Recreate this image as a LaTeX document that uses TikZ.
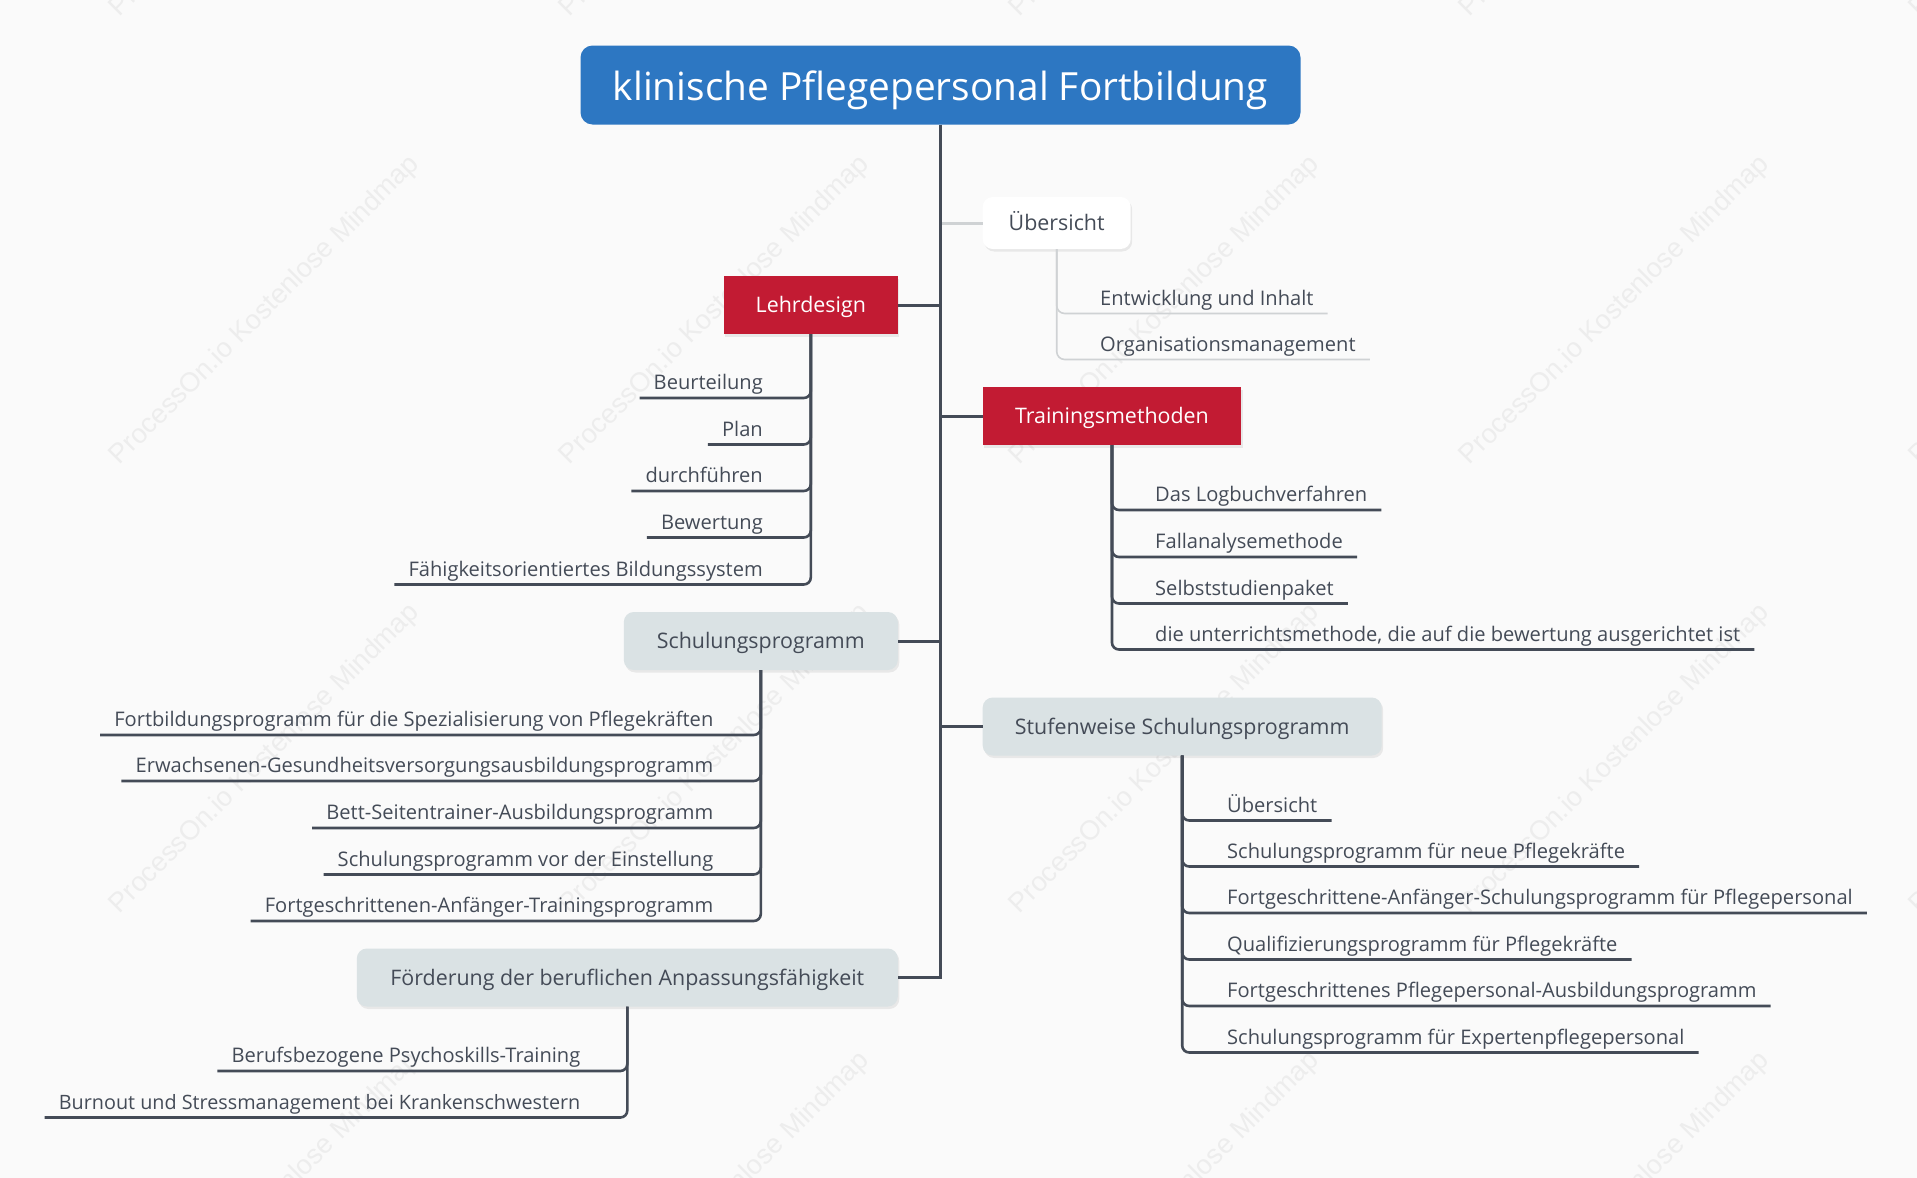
\documentclass[tikz,border=0pt]{standalone}
\usepackage{fontspec}
\setmainfont{Open Sans}
\newfontfamily\markfont{Liberation Sans}
\usetikzlibrary{shadows}
\definecolor{pagebg}{HTML}{FAFAFA}
\definecolor{rootblue}{HTML}{2D77C2}
\definecolor{topicred}{HTML}{C21B33}
\definecolor{topicgray}{HTML}{DAE2E4}
\definecolor{inkgray}{HTML}{444B57}
\definecolor{palegray}{HTML}{CFD2D4}
\definecolor{markgray}{HTML}{EDEDED}

\begin{document}
\begin{tikzpicture}[
    x=1pt, y=-1pt,
    softshadow/.style={drop shadow={shadow xshift=1.5pt, shadow yshift=-2.5pt, opacity=0.07, fill=black}},
    rootbox/.style={rectangle, rounded corners=12pt, fill=rootblue, text=white,
        minimum width=720pt, minimum height=79pt, text height=31pt, text depth=0pt,
        font=\fontsize{38.8}{46}\selectfont},
    topic/.style={rectangle, minimum height=58pt, inner sep=0pt, text height=15.4pt, text depth=0pt,
        softshadow, font=\fontsize{21.4}{25}\selectfont},
    plaintopic/.style={topic, rounded corners=10pt, fill=white, text=inkgray},
    redtopic/.style={topic, fill=topicred, text=white},
    graytopic/.style={topic, rounded corners=10pt, fill=topicgray, text=inkgray},
    leaf/.style={inner xsep=14pt, inner ysep=0pt, text height=20pt, text depth=8pt,
        text=inkgray, font=\fontsize{20.1}{24}\selectfont},
    branch/.style={draw=inkgray, line width=3pt},
    twig/.style={draw=inkgray, line width=2.6pt, rounded corners=7pt},
    palelink/.style={draw=palegray, line width=3pt},
    paletwig/.style={draw=palegray, line width=1.6pt, rounded corners=8pt},
    watermark/.style={rotate=45, text=markgray, font=\fontsize{27.2}{32}\markfont}
]
    \useasboundingbox (0,0) rectangle (1917,1178);
    \clip (0,0) rectangle (1917,1178);
    \fill[pagebg] (0,0) rectangle (1917,1178);

    % faint marks behind everything
    \foreach \wy in {-138,310.5,759,1207}
        \foreach \wx in {265,715,1165,1615,2065}
            \node[watermark] at (\wx,\wy) {ProcessOn.io Kostenlose Mindmap};

    % main boxes
    \node[rootbox] (root) at (940.5,85) {klinische Pflegepersonal Fortbildung};
    \node[plaintopic, anchor=west, minimum width=148pt, minimum height=52pt] (ueber) at (982.5,223) {Übersicht};
    \node[redtopic, anchor=east, minimum width=174pt] (lehr) at (898,305) {Lehrdesign};
    \node[redtopic, anchor=west, minimum width=258.5pt] (train) at (982.5,416) {Trainingsmethoden};
    \node[graytopic, anchor=east, minimum width=274pt] (schul) at (898,641) {Schulungsprogramm};
    \node[graytopic, anchor=west, minimum width=399pt] (stufe) at (982.5,726.5) {Stufenweise Schulungsprogramm};
    \node[graytopic, anchor=east, minimum width=541pt] (foerd) at (898,977.5) {Förderung der beruflichen Anpassungsfähigkeit};

    % leaves of Uebersicht
    \node[leaf, anchor=south west] (ueA) at (1086,313.5) {Entwicklung und Inhalt};
    \node[leaf, anchor=south west] (ueB) at (1086,359.5) {Organisationsmanagement};

    % leaves of Lehrdesign
    \node[leaf, anchor=south east] (leA) at (777,398) {Beurteilung};
    \node[leaf, anchor=south east] (leB) at (777,444.5) {Plan};
    \node[leaf, anchor=south east] (leC) at (777,491) {durchführen};
    \node[leaf, anchor=south east] (leD) at (777,537.5) {Bewertung};
    \node[leaf, anchor=south east] (leE) at (777,584.5) {Fähigkeitsorientiertes Bildungssystem};

    % leaves of Trainingsmethoden
    \node[leaf, anchor=south west] (trA) at (1141,510) {Das Logbuchverfahren};
    \node[leaf, anchor=south west] (trB) at (1141,557) {Fallanalysemethode};
    \node[leaf, anchor=south west] (trC) at (1141,603.5) {Selbststudienpaket};
    \node[leaf, anchor=south west] (trD) at (1141,649.5) {die unterrichtsmethode, die auf die bewertung ausgerichtet ist};

    % leaves of Schulungsprogramm
    \node[leaf, anchor=south east] (scA) at (727.5,735) {Fortbildungsprogramm für die Spezialisierung von Pflegekräften};
    \node[leaf, anchor=south east] (scB) at (727.5,781) {Erwachsenen-Gesundheitsversorgungsausbildungsprogramm};
    \node[leaf, anchor=south east] (scC) at (727.5,828) {Bett-Seitentrainer-Ausbildungsprogramm};
    \node[leaf, anchor=south east] (scD) at (727.5,874.5) {Schulungsprogramm vor der Einstellung};
    \node[leaf, anchor=south east] (scE) at (727.5,921) {Fortgeschrittenen-Anfänger-Trainingsprogramm};

    % leaves of Stufenweise
    \node[leaf, anchor=south west] (stA) at (1213,820.5) {Übersicht};
    \node[leaf, anchor=south west] (stB) at (1213,866.5) {Schulungsprogramm für neue Pflegekräfte};
    \node[leaf, anchor=south west] (stC) at (1213,913) {Fortgeschrittene-Anfänger-Schulungsprogramm für Pflegepersonal};
    \node[leaf, anchor=south west] (stD) at (1213,959.5) {Qualifizierungsprogramm für Pflegekräfte};
    \node[leaf, anchor=south west] (stE) at (1213,1006) {Fortgeschrittenes Pflegepersonal-Ausbildungsprogramm};
    \node[leaf, anchor=south west] (stF) at (1213,1052.5) {Schulungsprogramm für Expertenpflegepersonal};

    % leaves of Foerderung
    \node[leaf, anchor=south east] (foA) at (594.5,1071) {Berufsbezogene Psychoskills-Training};
    \node[leaf, anchor=south east, font=\fontsize{19.78}{24}\selectfont] (foB) at (594.5,1117.5) {Burnout und Stressmanagement bei Krankenschwestern};

    % connectors
    \draw[palelink] (root.south |- ueber.west) -- (ueber.west);
    \draw[branch] (root.south) |- (foerd.east);
    \draw[branch] (root.south |- lehr.east) -- (lehr.east);
    \draw[branch] (root.south |- train.west) -- (train.west);
    \draw[branch] (root.south |- schul.east) -- (schul.east);
    \draw[branch] (root.south |- stufe.west) -- (stufe.west);

    \foreach \leafname in {ueA,ueB}
        \draw[paletwig] (ueber.south) |- (\leafname.south east);
    \foreach \leafname in {leA,leB,leC,leD,leE}
        \draw[twig] (lehr.south) |- (\leafname.south west);
    \foreach \leafname in {trA,trB,trC,trD}
        \draw[twig] (train.south) |- (\leafname.south east);
    \foreach \leafname in {scA,scB,scC,scD,scE}
        \draw[twig] (schul.south) |- (\leafname.south west);
    \foreach \leafname in {stA,stB,stC,stD,stE,stF}
        \draw[twig] (stufe.south) |- (\leafname.south east);
    \foreach \leafname in {foA,foB}
        \draw[twig] (foerd.south) |- (\leafname.south west);
\end{tikzpicture}
\end{document}
